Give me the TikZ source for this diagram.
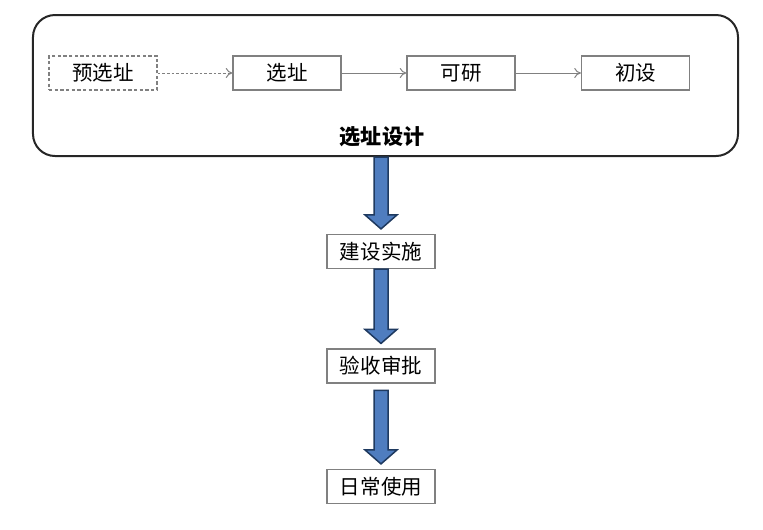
\documentclass[tikz,border=0pt]{standalone}
\usepackage{fontspec}
\setmainfont{Noto Sans CJK SC}
\usetikzlibrary{calc,arrows.meta}
\definecolor{boxline}{HTML}{808080}
\definecolor{framecol}{HTML}{262626}
\definecolor{arrowfill}{HTML}{4F7DBF}
\definecolor{arrowline}{HTML}{1F3A60}
\newcommand\fatarrow[3][0mm]{%
  \filldraw[fatarrow] let \p1=([yshift=-#1]#2.south), \p2=([yshift=1.5mm]#3.north) in
    (\x2-2.1mm,\y1) -- (\x2-2.1mm,\y2+4.2mm) -- (\x2-4.8mm,\y2+4.2mm)
    -- (\x2,\y2) -- (\x2+4.8mm,\y2+4.2mm) -- (\x2+2.1mm,\y2+4.2mm)
    -- (\x2+2.1mm,\y1) -- cycle;}
\begin{document}
\begin{tikzpicture}[x=0.3mm,y=-0.3mm,font=\fontsize{17.5}{19}\selectfont]
    \tikzset{
        stage/.style={
            draw=boxline,line width=0.35mm,fill=white,
            minimum width=32.4mm,minimum height=10.2mm,inner sep=0pt
        },
        option/.style={stage,dash pattern=on 1mm off 0.7mm},
        frame/.style={
            draw=framecol,line width=0.6mm,rounded corners=6.6mm,
            minimum width=211.5mm,minimum height=42.3mm
        },
        flow/.style={-{To[length=2mm,width=3mm]},draw=boxline,line width=0.3mm},
        fatarrow/.style={fill=arrowfill,draw=arrowline,line width=0.45mm}
    }
    \useasboundingbox (0,0) rectangle (763,529);

    \node[frame] (design) at (385.5,85.5) {};
    \node[font=\fontsize{18}{20}\selectfont\bfseries] (title) at (382,137) {选址设计};

    \node[option] (pre) at (103,73) {预选址};
    \node[stage] (site) at (287,73) {选址};
    \node[stage] (study) at (461,73) {可研};
    \node[stage] (prelim) at (635.5,73) {初设};

    \draw[flow,dash pattern=on 0.8mm off 0.6mm] (pre) -- (site);
    \draw[flow] (site) -- (study);
    \draw[flow] (study) -- (prelim);

    \node[stage] (build) at (381,251.5) {建设实施};
    \node[stage] (accept) at (381,366) {验收审批};
    \node[stage] (use) at (381,486.5) {日常使用};

    \fatarrow{design}{build}
    \fatarrow{build}{accept}
    \fatarrow[2mm]{accept}{use}
\end{tikzpicture}
\end{document}
